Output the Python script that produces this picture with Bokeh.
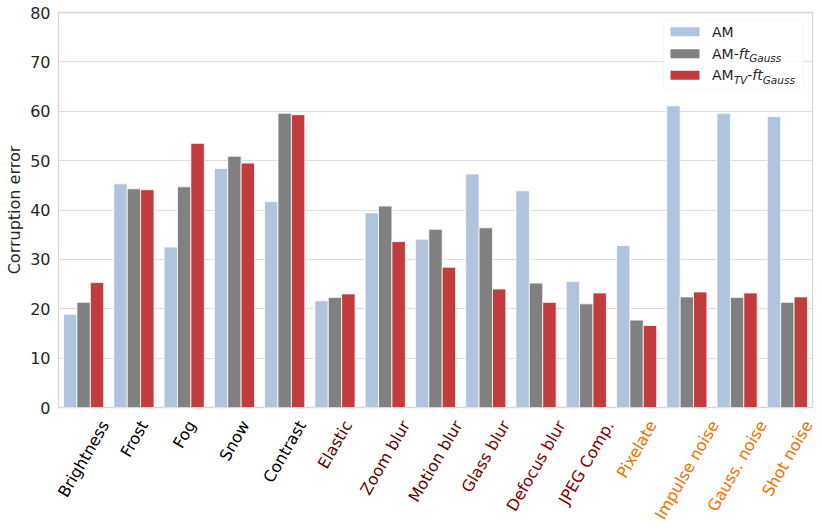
from bokeh.plotting import figure
from bokeh.models import ColumnDataSource, Label, BoxAnnotation, Range1d, FixedTicker
from bokeh.core.properties import value
from bokeh.embed import file_html
from bokeh.resources import INLINE

categories = ["Brightness", "Frost", "Fog", "Snow", "Contrast", "Elastic", "Zoom blur",
              "Motion blur", "Glass blur", "Defocus blur", "JPEG Comp.", "Pixelate",
              "Impulse noise", "Gauss. noise", "Shot noise"]
am = [18.9, 45.3, 32.5, 48.4, 41.7, 21.6, 39.4, 34.1, 47.3, 43.9, 25.5, 32.8, 61.1, 59.6, 58.9]
am_ft = [21.3, 44.3, 44.7, 50.9, 59.6, 22.3, 40.8, 36.1, 36.4, 25.2, 21.0, 17.7, 22.4, 22.3, 21.3]
am_tv_ft = [25.3, 44.1, 53.5, 49.5, 59.3, 23.0, 33.6, 28.4, 24.0, 21.3, 23.2, 16.6, 23.4, 23.2, 22.4]
label_colors = ["#000000"] * 5 + ["#5a0505"] * 3 + ["#800000"] * 3 + ["#f07000"] * 4
y_ticks = [0, 10, 20, 30, 40, 50, 60, 70, 80]

series_colors = ["#b0c4de", "#808080", "#c23b3d"]

FW, FH = 754, 395
LB, RB, BB = 58, 4, 10
X0, X1 = -0.5, len(categories) - 0.5
Y0, Y1 = 0, 80
PXX = FW / (X1 - X0)
PXY = FH / (Y1 - Y0)

p = figure(frame_width=FW, frame_height=FH, output_backend="svg", toolbar_location=None,
           x_range=Range1d(X0, X1), y_range=Range1d(Y0, Y1), x_axis_location=None,
           min_border_left=LB, min_border_right=RB, min_border_top=12, min_border_bottom=BB)
p.background_fill_color = "white"
p.border_fill_color = "white"
p.outline_line_color = "#d6d6d6"
p.outline_line_width = 1.3

bw = 0.8 / 3
xs = list(range(len(categories)))
for i, (vals, col) in enumerate(zip([am, am_ft, am_tv_ft], series_colors)):
    src = ColumnDataSource(dict(x=[v + (i - 1) * bw for v in xs], top=vals))
    p.vbar(x="x", top="top", bottom=0, width=bw, source=src, fill_color=col,
           line_color="white", line_width=0.8)

p.xgrid.visible = False
p.ygrid.grid_line_color = "#dedede"
p.ygrid.grid_line_width = 1.2
ya = p.yaxis[0]
ya.ticker = FixedTicker(ticks=y_ticks)
ya.axis_line_color = None
ya.major_tick_line_color = None
ya.minor_tick_line_color = None
ya.major_tick_out = 0
ya.major_tick_in = 0
ya.major_label_text_font = "DejaVu Sans"
ya.major_label_text_font_size = "16px"
ya.major_label_text_color = "#262626"
ya.major_label_standoff = 8
ya.axis_label = "Corruption error"
ya.axis_label_text_font = "DejaVu Sans"
ya.axis_label_text_font_size = "16px"
ya.axis_label_text_font_style = "normal"
ya.axis_label_text_color = "#262626"
ya.axis_label_standoff = 3

# approximate DejaVu Sans advance widths (em) to centre rotated labels
W = {' ': .318, '.': .318, '-': .361, 'A': .684, 'B': .686, 'C': .698, 'D': .770, 'E': .632,
     'F': .575, 'G': .775, 'I': .295, 'J': .295, 'M': .863, 'P': .603, 'S': .635, 'Z': .685,
     'T': .611, 'V': .684,
     'a': .613, 'b': .635, 'c': .550, 'd': .635, 'e': .615, 'f': .352, 'g': .635, 'h': .634,
     'i': .278, 'k': .579, 'l': .278, 'm': .974, 'n': .634, 'o': .612, 'p': .635, 'r': .411,
     's': .521, 't': .392, 'u': .634, 'v': .592, 'w': .818, 'x': .592, 'y': .592, 'z': .525}

def tw(s, size):
    return sum(W.get(c, .6) for c in s) * size

# legend (drawn manually for italic / subscript formatting)
def dx(px):
    return X0 + px / PXX

def dy(py):
    return Y1 - py / PXY

L_left, L_right, L_top, L_bot = 605, 745, 7.5, 77.5
p.add_layout(BoxAnnotation(left=dx(L_left), right=dx(L_right), top=dy(L_top), bottom=dy(L_bot),
                           fill_color="white", fill_alpha=0.85, line_color="#dcdcdc",
                           line_width=1, border_radius=3, level="overlay"))
rows = [19.3, 41.2, 62.8]
for r, col in zip(rows, series_colors):
    p.add_layout(BoxAnnotation(left=dx(612), right=dx(641), top=dy(r - 4.5), bottom=dy(r + 4.5),
                               fill_color=col, fill_alpha=1, line_color=None, level="overlay"))

LF = 14
SF = 10.5
tx0 = 653.5

def piece(x, yrow, text, size, style, sub=False):
    ypx = yrow + (4.5 if sub else 0)
    p.add_layout(Label(x=dx(x), y=dy(ypx), text=text, text_font="DejaVu Sans",
                       text_font_size=f"{size}px", text_font_style=style, text_color="#262626",
                       text_baseline="middle", text_align="left", level="overlay"))
    return x + tw(text, size)

piece(tx0, rows[0], "AM", LF, "normal")
xx = piece(tx0, rows[1], "AM-", LF, "normal")
xx = piece(xx, rows[1], "ft", LF, "italic")
piece(xx, rows[1], "Gauss", SF, "italic", sub=True)
xx = piece(tx0, rows[2], "AM", LF, "normal")
xx = piece(xx, rows[2], "TV", SF, "italic", sub=True)
xx = piece(xx, rows[2], "-", LF, "normal")
xx = piece(xx, rows[2], "ft", LF, "italic")
piece(xx, rows[2], "Gauss", SF, "italic", sub=True)

# category labels in a strip under the chart, sharing its x scale
LH = 108
p2 = figure(frame_width=LB + FW + RB, frame_height=LH, output_backend="svg",
            toolbar_location=None,
            x_range=Range1d(X0 - LB / PXX, X1 + RB / PXX), y_range=Range1d(-LH, 0),
            x_axis_location=None, y_axis_location=None,
            min_border_left=0, min_border_right=0, min_border_top=0, min_border_bottom=0)
p2.outline_line_color = None
p2.grid.visible = False
p2.background_fill_color = "white"
p2.border_fill_color = "white"

FS = 16
ANCHOR = 14.5 - BB
lsrc = ColumnDataSource(dict(x=[v + tw(c, FS) / 4 / PXX for v, c in zip(xs, categories)],
                             y=[-ANCHOR] * len(categories), text=categories, color=label_colors))
p2.text(x="x", y="y", text="text", source=lsrc, angle=60, angle_units="deg",
        text_align="right", text_baseline="middle", text_color="color",
        text_font=value("DejaVu Sans"), text_font_size=value(f"{FS}px"))

open("out.html", "w").write(file_html([p, p2], INLINE))
